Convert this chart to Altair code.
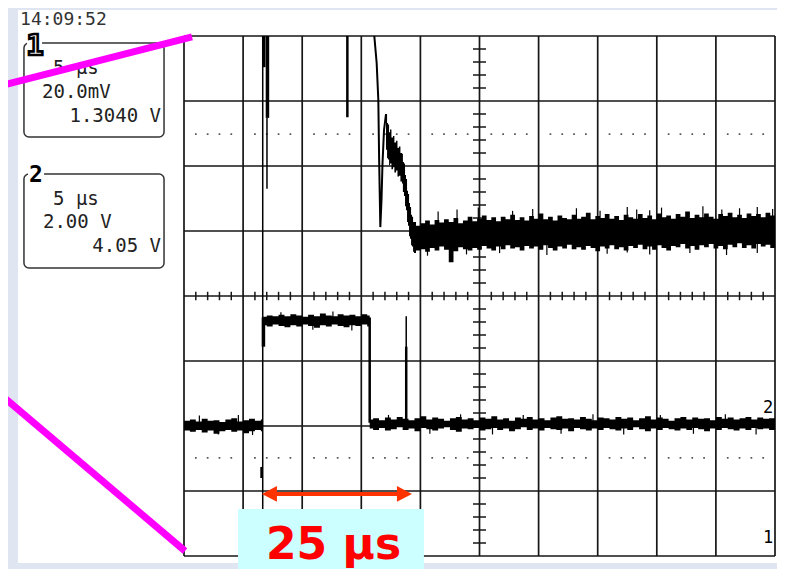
import altair as alt
import pandas as pd

# ------------------------------------------------------------------
# Oscilloscope graticule: 10 x 5 us horizontally, 8 divisions vertically
# x = time in us (0..50), y = divisions (-4..4)
# ------------------------------------------------------------------
GRID_T = [0, 5, 10, 15, 20, 25, 30, 35, 40, 45, 50]
GRID_D = [-4, -3, -2, -1, 0, 1, 2, 3, 4]
MINOR_T = [t for t in range(1, 50) if t % 5]
MINOR_D = [round(-4 + 0.2 * i, 1) for i in range(41) if i % 5]
DOT_D = [2.49, -2.49]

# ------------------------------------------------------------------
# Channel 1 (top trace) - noisy settled band after the edge (envelope)
# ------------------------------------------------------------------
T1_T = [19.6, 20.0, 20.4, 20.8, 21.2, 21.6, 22.0, 22.4, 22.8, 23.2, 23.6,
        24.0, 24.4, 24.8, 25.2, 25.6, 26.0, 26.4, 26.8, 27.2, 27.6, 28.0,
        28.4, 28.8, 29.2, 29.6, 30.0, 30.4, 30.8, 31.2, 31.6, 32.0, 32.4,
        32.8, 33.2, 33.6, 34.0, 34.4, 34.8, 35.2, 35.6, 36.0, 36.4, 36.8,
        37.2, 37.6, 38.0, 38.4, 38.8, 39.2, 39.6, 40.0, 40.4, 40.8, 41.2,
        41.6, 42.0, 42.4, 42.8, 43.2, 43.6, 44.0, 44.4, 44.8, 45.2, 45.6,
        46.0, 46.4, 46.8, 47.2, 47.6, 48.0, 48.4, 48.8, 49.2, 49.6, 50.0]
T1_HI = [1.08, 1.12, 1.16, 1.10, 1.17, 1.13, 1.18, 1.14, 1.20, 1.12, 1.16,
         1.22, 1.15, 1.19, 1.24, 1.17, 1.21, 1.15, 1.22, 1.18, 1.25, 1.17,
         1.21, 1.16, 1.23, 1.19, 1.27, 1.18, 1.22, 1.16, 1.24, 1.20, 1.18,
         1.25, 1.19, 1.22, 1.28, 1.18, 1.23, 1.20, 1.26, 1.19, 1.23, 1.17,
         1.25, 1.21, 1.19, 1.26, 1.20, 1.24, 1.18, 1.27, 1.21, 1.24, 1.19,
         1.26, 1.22, 1.30, 1.20, 1.25, 1.21, 1.27, 1.22, 1.19, 1.26, 1.23,
         1.28, 1.21, 1.25, 1.20, 1.27, 1.23, 1.26, 1.21, 1.28, 1.24, 1.26]
T1_LO = [0.70, 0.72, 0.68, 0.74, 0.70, 0.76, 0.71, 0.52, 0.69, 0.75, 0.72,
         0.70, 0.74, 0.71, 0.77, 0.73, 0.70, 0.76, 0.72, 0.78, 0.73, 0.75,
         0.70, 0.77, 0.73, 0.76, 0.71, 0.78, 0.74, 0.70, 0.76, 0.73, 0.79,
         0.72, 0.75, 0.71, 0.77, 0.74, 0.69, 0.76, 0.73, 0.78, 0.72, 0.75,
         0.70, 0.77, 0.74, 0.79, 0.72, 0.76, 0.71, 0.78, 0.74, 0.70, 0.77,
         0.75, 0.80, 0.73, 0.77, 0.71, 0.78, 0.75, 0.80, 0.73, 0.77, 0.72,
         0.79, 0.75, 0.81, 0.74, 0.78, 0.73, 0.80, 0.76, 0.79, 0.74, 0.78]

# channel 1 - isolated noise peaks above / below the band (t, peak)
T1_PEAKS_UP = [(21.5, 1.30), (23.1, 1.33), (24.9, 1.36), (27.8, 1.31), (29.5, 1.34), (33.2, 1.35),
               (35.2, 1.31), (37.5, 1.37), (38.3, 1.33), (39.4, 1.32), (40.4, 1.36), (43.9, 1.38),
               (45.5, 1.33), (47.0, 1.35), (48.5, 1.37), (49.8, 1.34)]
T1_PEAKS_DN = [(20.6, 0.62), (23.9, 0.64), (26.7, 0.66), (30.7, 0.63), (35.8, 0.65), (37.5, 0.67),
               (39.4, 0.64), (42.8, 0.66), (45.9, 0.63), (48.5, 0.66)]

# channel 1 - decaying ramp (envelope)
T1D_T = [17.09, 17.18, 17.26, 17.35, 17.43, 17.55, 17.68, 17.80, 17.94, 18.06, 18.19, 18.31, 18.44,
         18.52, 18.61, 18.70, 18.78, 18.87, 18.95, 19.04, 19.12, 19.21, 19.29, 19.38, 19.46, 19.63]
T1D_HI = [2.80, 2.66, 2.64, 2.52, 2.56, 2.44, 2.46, 2.36, 2.39, 2.28, 2.30, 2.20, 2.19,
          2.06, 2.04, 1.86, 1.80, 1.62, 1.57, 1.43, 1.37, 1.25, 1.22, 1.14, 1.14, 1.10]
T1D_LO = [2.25, 2.12, 2.10, 2.01, 2.04, 1.95, 1.98, 1.90, 1.93, 1.84, 1.85, 1.76, 1.73,
          1.60, 1.54, 1.38, 1.32, 1.14, 1.08, 0.92, 0.88, 0.78, 0.76, 0.68, 0.66, 0.70]

# channel 1 - falling edge coming in from above the screen
T1E_T = [16.05, 16.10, 16.30, 16.44, 16.51, 16.61, 16.71, 16.79, 16.92, 17.09]
T1E_D = [4.30, 4.00, 3.585, 3.015, 2.09, 1.06, 1.48, 2.02, 2.55, 2.80]

# ------------------------------------------------------------------
# Channel 2 (bottom trace) - pulse, envelope per segment
# ------------------------------------------------------------------
T2A_T = [0.0, 0.5, 1.0, 1.5, 2.0, 2.5, 3.0, 3.5, 4.0, 4.5, 5.0, 5.5, 6.0, 6.5, 6.64]
T2A_HI = [-1.92, -1.90, -1.93, -1.89, -1.92, -1.91, -1.94, -1.90, -1.88, -1.93, -1.91, -1.89, -1.92, -1.90, -1.90]
T2A_LO = [-2.07, -2.09, -2.06, -2.10, -2.07, -2.12, -2.08, -2.06, -2.09, -2.07, -2.11, -2.08, -2.06, -2.08, -2.08]

T2B_T = [6.64, 7.0, 7.5, 8.0, 8.5, 9.0, 9.5, 10.0, 10.5, 11.0, 11.5, 12.0, 12.5, 13.0, 13.5,
         14.0, 14.5, 15.0, 15.5, 15.71]
T2B_HI = [-0.32, -0.30, -0.31, -0.29, -0.31, -0.28, -0.30, -0.32, -0.29, -0.31, -0.27, -0.30, -0.31, -0.28, -0.30,
          -0.29, -0.31, -0.28, -0.30, -0.30]
T2B_LO = [-0.45, -0.47, -0.44, -0.46, -0.48, -0.45, -0.47, -0.44, -0.46, -0.49, -0.45, -0.47, -0.44, -0.46, -0.48,
          -0.45, -0.46, -0.44, -0.47, -0.47]

T2C_T = [15.71, 16.0, 16.5, 17.0, 17.5, 18.0, 18.5, 19.0, 19.5, 20.0, 20.5, 21.0, 21.5, 22.0, 22.5, 23.0, 23.5, 24.0,
         24.5, 25.0, 25.5, 26.0, 26.5, 27.0, 27.5, 28.0, 28.5, 29.0, 29.5, 30.0, 30.5, 31.0, 31.5, 32.0, 32.5, 33.0,
         33.5, 34.0, 34.5, 35.0, 35.5, 36.0, 36.5, 37.0, 37.5, 38.0, 38.5, 39.0, 39.5, 40.0, 40.5, 41.0, 41.5, 42.0,
         42.5, 43.0, 43.5, 44.0, 44.5, 45.0, 45.5, 46.0, 46.5, 47.0, 47.5, 48.0, 48.5, 49.0, 49.5, 50.0]
T2C_HI = [-1.90, -1.88, -1.91, -1.87, -1.90, -1.86, -1.89, -1.91, -1.88, -1.85, -1.90, -1.87, -1.89, -1.92, -1.88,
          -1.86, -1.90, -1.88, -1.91, -1.87, -1.89, -1.85, -1.90, -1.88, -1.92, -1.87, -1.89, -1.86, -1.90, -1.88,
          -1.91, -1.87, -1.85, -1.89, -1.88, -1.90, -1.86, -1.89, -1.91, -1.87, -1.88, -1.90, -1.86, -1.89, -1.87,
          -1.91, -1.88, -1.85, -1.90, -1.87, -1.89, -1.92, -1.88, -1.86, -1.90, -1.87, -1.89, -1.88, -1.91, -1.86,
          -1.89, -1.87, -1.90, -1.88, -1.86, -1.90, -1.87, -1.89, -1.88, -1.88]
T2C_LO = [-2.04, -2.06, -2.03, -2.07, -2.05, -2.02, -2.06, -2.04, -2.08, -2.03, -2.05, -2.07, -2.04, -2.02, -2.06,
          -2.09, -2.04, -2.05, -2.03, -2.07, -2.05, -2.03, -2.06, -2.04, -2.08, -2.05, -2.02, -2.06, -2.04, -2.07,
          -2.03, -2.05, -2.06, -2.04, -2.08, -2.03, -2.05, -2.07, -2.04, -2.06, -2.03, -2.05, -2.07, -2.04, -2.06,
          -2.02, -2.05, -2.08, -2.04, -2.06, -2.03, -2.05, -2.07, -2.04, -2.06, -2.03, -2.05, -2.08, -2.04, -2.06,
          -2.03, -2.05, -2.07, -2.04, -2.06, -2.03, -2.05, -2.04, -2.06, -2.06]

# channel 2 - isolated noise peaks (t, peak)
T2_PEAKS = [(1.3, -1.84), (2.9, -2.13), (4.6, -1.83), (5.8, -2.14), (8.2, -0.25), (10.9, -0.52),
            (12.6, -0.24), (14.2, -0.53), (17.3, -1.83), (20.8, -2.12), (23.4, -1.82), (26.1, -2.13),
            (28.7, -1.83), (31.9, -2.12), (34.6, -1.82), (37.2, -2.13), (40.3, -1.83), (43.1, -2.12),
            (45.8, -1.82), (48.4, -2.13)]

# vertical glitches / edges (t, from, to) in divisions
SPIKES_THIN = [(6.66, 4.0, -4.0), (7.02, 2.74, 1.65), (18.80, -0.31, -1.95)]
SPIKES_MED = [(6.79, 4.0, 3.52), (13.82, 4.0, 2.75), (6.56, -2.63, -2.80), (15.71, -0.33, -1.95),
              (18.80, -0.78, -1.95)]
SPIKES_THICK = [(7.06, 4.0, 2.74), (6.72, -0.33, -0.78)]

# ------------------------------------------------------------------
# Screen texts and annotation
# ------------------------------------------------------------------
TIMESTAMP = "14:09:52"
CH1_LINES = ["5 µs", "20.0mV", "1.3040 V"]
CH2_LINES = ["5 µs", "2.00 V", "4.05 V"]
GROUND_MARKS = ["2", "1"]
ANNOT_TEXT = "25 µs"

XS = alt.Scale(domain=[0, 50], nice=False, zero=False)
YS = alt.Scale(domain=[-4, 4], nice=False, zero=False)


def X(f):
    return alt.X(f"{f}:Q", scale=XS, axis=None)


def Y(f):
    return alt.Y(f"{f}:Q", scale=YS, axis=None)


def X2(f):
    return alt.X2(f"{f}:Q")


def Y2(f):
    return alt.Y2(f"{f}:Q")


INK = "#161616"
MONO = "DejaVu Sans Mono"

layers = []

# white screen area
screen = pd.DataFrame({"t": [-14.04], "t2": [60], "d": [-4.108], "d2": [4.40]})
layers.append(alt.Chart(screen).mark_rect(color="white").encode(x=X("t"), x2=X2("t2"), y=Y("d"), y2=Y2("d2")))

# dotted reference rows
dots = pd.DataFrame([{"t": t, "d": d} for d in DOT_D for t in MINOR_T])
layers.append(alt.Chart(dots).mark_square(size=3, color="#555", opacity=1).encode(x=X("t"), y=Y("d")))

# graticule
layers.append(alt.Chart(pd.DataFrame({"t": GRID_T})).mark_rule(color=INK, strokeWidth=1.7).encode(x=X("t")))
layers.append(alt.Chart(pd.DataFrame({"d": GRID_D})).mark_rule(color=INK, strokeWidth=1.7).encode(y=Y("d")))

# minor ticks on the centre axes
htk = pd.DataFrame({"t": MINOR_T, "d": [-0.065] * len(MINOR_T), "d2": [0.065] * len(MINOR_T)})
layers.append(alt.Chart(htk).mark_rule(color=INK, strokeWidth=1.5).encode(x=X("t"), y=Y("d"), y2=Y2("d2")))
vtk = pd.DataFrame({"d": MINOR_D, "t": [24.45] * len(MINOR_D), "t2": [25.55] * len(MINOR_D)})
layers.append(alt.Chart(vtk).mark_rule(color=INK, strokeWidth=1.5).encode(y=Y("d"), x=X("t"), x2=X2("t2")))

# ---- traces
t1flat = pd.DataFrame({"t": T1_T, "lo": T1_LO, "hi": T1_HI})
layers.append(alt.Chart(t1flat).mark_area(color="black", interpolate="step-after", clip=True, opacity=1)
              .encode(x=X("t"), y=Y("lo"), y2=Y2("hi")))
pk1 = pd.DataFrame([{"t": t, "d": 1.0, "d2": p} for t, p in T1_PEAKS_UP + T1_PEAKS_DN])
layers.append(alt.Chart(pk1).mark_rule(color="black", strokeWidth=1.2, clip=True)
              .encode(x=X("t"), y=Y("d"), y2=Y2("d2")))
t1dec = pd.DataFrame({"t": T1D_T, "lo": T1D_LO, "hi": T1D_HI})
layers.append(alt.Chart(t1dec).mark_area(color="black", interpolate="step-after", clip=True, opacity=1)
              .encode(x=X("t"), y=Y("lo"), y2=Y2("hi")))
t1edge = pd.DataFrame({"t": T1E_T, "d": T1E_D})
layers.append(alt.Chart(t1edge).mark_line(color="black", strokeWidth=2, clip=True)
              .encode(x=X("t"), y=Y("d"), order="t:Q"))

segs = []
for name, ts, lo, hi in [("A", T2A_T, T2A_LO, T2A_HI), ("B", T2B_T, T2B_LO, T2B_HI), ("C", T2C_T, T2C_LO, T2C_HI)]:
    for t, a, b in zip(ts, lo, hi):
        segs.append({"seg": name, "t": t, "lo": a, "hi": b})
t2 = pd.DataFrame(segs)
layers.append(alt.Chart(t2).mark_area(color="black", interpolate="step-after", clip=True, opacity=1)
              .encode(x=X("t"), y=Y("lo"), y2=Y2("hi"), detail="seg:N"))
pk2 = pd.DataFrame([{"t": t, "d": (-0.38 if p > -1.0 else -1.97), "d2": p} for t, p in T2_PEAKS])
layers.append(alt.Chart(pk2).mark_rule(color="black", strokeWidth=1.2, clip=True)
              .encode(x=X("t"), y=Y("d"), y2=Y2("d2")))

for spikes, w in [(SPIKES_THIN, 1.5), (SPIKES_MED, 2.5), (SPIKES_THICK, 3.5)]:
    sp = pd.DataFrame(spikes, columns=["t", "d", "d2"])
    layers.append(alt.Chart(sp).mark_rule(color="black", strokeWidth=w, clip=True)
                  .encode(x=X("t"), y=Y("d"), y2=Y2("d2")))

# ---- channel boxes
boxes = pd.DataFrame({"t": [-13.54, -13.54], "t2": [-1.69, -1.69], "d": [3.892, 1.877], "d2": [2.446, 0.431]})
layers.append(alt.Chart(boxes).mark_rect(fill="white", stroke="#333", strokeWidth=1.5, cornerRadius=5)
              .encode(x=X("t"), x2=X2("t2"), y=Y("d"), y2=Y2("d2")))
labbg = pd.DataFrame({"t": [-13.28, -13.2], "t2": [-12.01, -11.84], "d": [4.09, 2.0], "d2": [3.677, 1.785]})
layers.append(alt.Chart(labbg).mark_rect(color="white").encode(x=X("t"), x2=X2("t2"), y=Y("d"), y2=Y2("d2")))

lab1 = pd.DataFrame({"t": [-12.6], "d": [3.708], "s": ["1"]})
layers.append(alt.Chart(lab1).mark_text(font=MONO, fontSize=29, fontWeight="bold", fill="white", stroke="black",
                                        strokeWidth=2.6, align="center", baseline="alphabetic")
              .encode(x=X("t"), y=Y("d"), text="s:N"))
lab2 = pd.DataFrame({"t": [-12.52], "d": [1.754], "s": ["2"]})
layers.append(alt.Chart(lab2).mark_text(font=MONO, fontSize=23, fontWeight="bold", color="black",
                                        align="center", baseline="alphabetic")
              .encode(x=X("t"), y=Y("d"), text="s:N"))

left_txt = pd.DataFrame({"t": [-11.08, -12.01, -11.08, -11.93],
                         "d": [3.415, 3.046, 1.40, 1.046],
                         "s": [CH1_LINES[0], CH1_LINES[1], CH2_LINES[0], CH2_LINES[1]]})
layers.append(alt.Chart(left_txt).mark_text(font=MONO, fontSize=19, color="#222", align="left", baseline="alphabetic")
              .encode(x=X("t"), y=Y("d"), text="s:N"))
right_txt = pd.DataFrame({"t": [-1.946, -1.946], "d": [2.677, 0.677], "s": [CH1_LINES[2], CH2_LINES[2]]})
layers.append(alt.Chart(right_txt).mark_text(font=MONO, fontSize=19, color="#222", align="right", baseline="alphabetic")
              .encode(x=X("t"), y=Y("d"), text="s:N"))

stamp = pd.DataFrame({"t": [-13.87], "d": [4.17], "s": [TIMESTAMP]})
layers.append(alt.Chart(stamp).mark_text(font=MONO, fontSize=18, color="#333", align="left", baseline="alphabetic")
              .encode(x=X("t"), y=Y("d"), text="s:N"))

# ground markers at the right edge (kept just inside the graticule)
gm = pd.DataFrame({"t": [49.85, 49.85], "d": [-1.80, -3.80], "s": GROUND_MARKS})
layers.append(alt.Chart(gm).mark_text(font=MONO, fontSize=17, color="black", align="right", baseline="alphabetic")
              .encode(x=X("t"), y=Y("d"), text="s:N"))

# ---- annotation: arrow + label box
RED = "#ff3300"
arr = pd.DataFrame({"t": [7.7], "t2": [18.2], "d": [-3.046]})
layers.append(alt.Chart(arr).mark_rule(color=RED, strokeWidth=4).encode(x=X("t"), x2=X2("t2"), y=Y("d")))
hl = pd.DataFrame({"t": [7.23], "d": [-3.046]})
layers.append(alt.Chart(hl).mark_point(shape="M-1,0L1,-1.05L1,1.05Z", size=225, filled=True, color=RED, opacity=1)
              .encode(x=X("t"), y=Y("d")))
hr = pd.DataFrame({"t": [18.65], "d": [-3.046]})
layers.append(alt.Chart(hr).mark_point(shape="M1,0L-1,-1.05L-1,1.05Z", size=225, filled=True, color=RED, opacity=1)
              .encode(x=X("t"), y=Y("d")))

lbox = pd.DataFrame({"t": [4.57], "t2": [20.3], "d": [-3.277], "d2": [-4.5]})
layers.append(alt.Chart(lbox).mark_rect(color="#ccffff").encode(x=X("t"), x2=X2("t2"), y=Y("d"), y2=Y2("d2")))
ltxt = pd.DataFrame({"t": [12.65], "d": [-4.05], "s": [ANNOT_TEXT]})
layers.append(alt.Chart(ltxt).mark_text(font="DejaVu Sans", fontSize=44, fontWeight="bold", color="#ff0000",
                                        align="center", baseline="alphabetic")
              .encode(x=X("t"), y=Y("d"), text="s:N"))

# ---- magenta zoom lines
mag = pd.DataFrame({"t": [-15.57, -15.57], "t2": [0.677, 0.085], "d": [3.231, -1.508], "d2": [3.985, -3.923]})
layers.append(alt.Chart(mag).mark_rule(color="#ff00ff", strokeWidth=7, strokeCap="butt")
              .encode(x=X("t"), x2=X2("t2"), y=Y("d"), y2=Y2("d2")))

chart = alt.layer(*layers).properties(
    width=591, height=520,
    padding={"left": 176, "top": 28, "right": 2, "bottom": 13},
    autosize=alt.AutoSizeParams(type="none"),
).configure(background="#dfe6f1").configure_view(strokeWidth=0)

chart.save("out.html", embed_options={"renderer": "svg", "actions": False})
